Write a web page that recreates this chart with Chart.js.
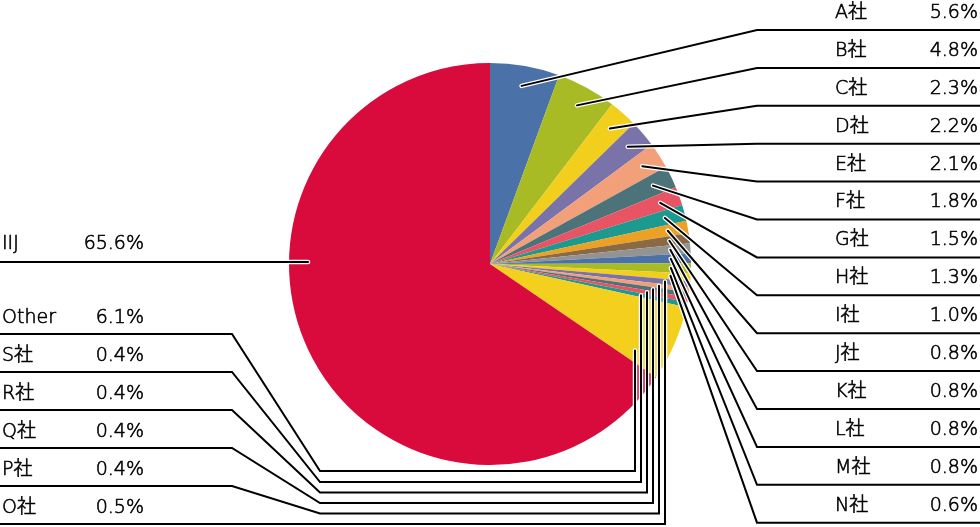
<!DOCTYPE html>
<html>
<head>
<meta charset="utf-8">
<script src="https://cdn.jsdelivr.net/npm/chart.js@4"></script>
<style>
  body { margin: 0; background: #fff; }
  #wrap { width: 980px; height: 527px; }
</style>
</head>
<body>
<div id="wrap"><canvas id="chart"></canvas></div>
<script>
// data, clockwise from 12 o'clock
const labels = ['A社', 'B社', 'C社', 'D社', 'E社', 'F社', 'G社', 'H社', 'I社', 'J社', 'K社', 'L社', 'M社', 'N社',
  'O社', 'P社', 'Q社', 'R社', 'S社', 'Other', 'IIJ'];
const shares = [5.6, 4.8, 2.3, 2.2, 2.1, 1.8, 1.5, 1.3, 1.0, 0.8, 0.8, 0.8, 0.8, 0.6,
  0.5, 0.4, 0.4, 0.4, 0.4, 6.1, 65.6];
const colors = ['#4a72a9', '#a9bb24', '#f2cf1d', '#7a73aa', '#f2a07a', '#4c737a', '#e95464', '#1c9a8f',
  '#eca024', '#8a6a45', '#939393', '#4a72a9', '#a9bb24', '#f2cf1d', '#7a73aa', '#f2a07a', '#4c737a',
  '#e95464', '#1c9a8f', '#f3d01e', '#d80b3c'];

// labels on the right (A..N) and on the left (Other, S..O)
const rightLabels = ['A社', 'B社', 'C社', 'D社', 'E社', 'F社', 'G社', 'H社', 'I社', 'J社', 'K社', 'L社', 'M社', 'N社'];
const leftLabels = ['Other', 'S社', 'R社', 'Q社', 'P社', 'O社'];

const FONT = '300 19px "DejaVu Sans", "Noto Sans CJK JP", sans-serif';

function strokeLeader(ctx, pts) {
  ctx.save();
  ctx.lineJoin = 'miter';
  ctx.lineCap = 'round';
  [['#fff', 4.5], ['#000', 2]].forEach(([c, w]) => {
    ctx.strokeStyle = c;
    ctx.lineWidth = w;
    ctx.beginPath();
    ctx.moveTo(pts[0][0], pts[0][1]);
    for (let i = 1; i < pts.length; i++) ctx.lineTo(pts[i][0], pts[i][1]);
    ctx.stroke();
  });
  ctx.restore();
}

// light font, thickened a little
function label(ctx, txt, x, y, align) {
  ctx.textAlign = align;
  ctx.fillText(txt, x, y);
  ctx.strokeText(txt, x, y);
}

function pct(v) { return v.toFixed(1) + '%'; }

const leaderPlugin = {
  id: 'leaders',
  afterDatasetsDraw(chart) {
    const ctx = chart.ctx;
    const arcs = chart.getDatasetMeta(0).data;
    const W = chart.width;
    const byName = name => arcs[labels.indexOf(name)];
    const midAngle = (a, f) => a.startAngle + (a.endAngle - a.startAngle) * f;

    ctx.save();
    ctx.font = FONT;
    ctx.fillStyle = '#000';
    ctx.strokeStyle = '#000';
    ctx.lineWidth = 0.6;
    ctx.textBaseline = 'middle';

    // right side
    rightLabels.forEach((name, i) => {
      const a = byName(name);
      const ang = midAngle(a, 0.5);
      const r = a.outerRadius * 0.9;
      const ax = a.x + Math.cos(ang) * r, ay = a.y + Math.sin(ang) * r;
      const uy = 30 + i * 37.9;
      strokeLeader(ctx, [[ax, ay], [757, uy], [W, uy]]);
      label(ctx, name, 835, uy - 17, 'left');
      label(ctx, pct(shares[labels.indexOf(name)]), 978, uy - 17, 'right');
    });

    // IIJ
    const big = byName('IIJ');
    const iy = 262;
    strokeLeader(ctx, [[big.x - big.outerRadius * 0.905, iy], [0, iy]]);
    label(ctx, 'IIJ', 2, iy - 18, 'left');
    label(ctx, pct(shares[labels.indexOf('IIJ')]), 144, iy - 18, 'right');

    // left side, routed under the pie
    const bottoms = [471, 482, 492.5, 503, 513.5, 524];
    const verts = [635, 641, 647, 653, 659, 665];
    leftLabels.forEach((name, i) => {
      const a = byName(name);
      const ang = midAngle(a, name === 'Other' ? 0.84 : 0.5);
      const vx = verts[i];
      const vy = a.y + (vx - a.x) * Math.tan(ang);
      const uy = 334 + i * 38;
      strokeLeader(ctx, [[vx, vy], [vx, bottoms[i]], [320, bottoms[i]], [232, uy], [0, uy]]);
      label(ctx, name, 2, uy - 16, 'left');
      label(ctx, pct(shares[labels.indexOf(name)]), 144, uy - 16, 'right');
    });
    ctx.restore();
  }
};

new Chart(document.getElementById('chart'), {
  type: 'pie',
  data: {
    labels,
    datasets: [{
      data: shares,
      backgroundColor: colors,
      borderWidth: 0
    }]
  },
  options: {
    responsive: true,
    maintainAspectRatio: false,
    animation: false,
    layout: { padding: { top: 63, bottom: 62, left: 288, right: 288 } },
    plugins: {
      legend: { display: false },
      tooltip: { enabled: false }
    }
  },
  plugins: [leaderPlugin]
});
</script>
</body>
</html>
